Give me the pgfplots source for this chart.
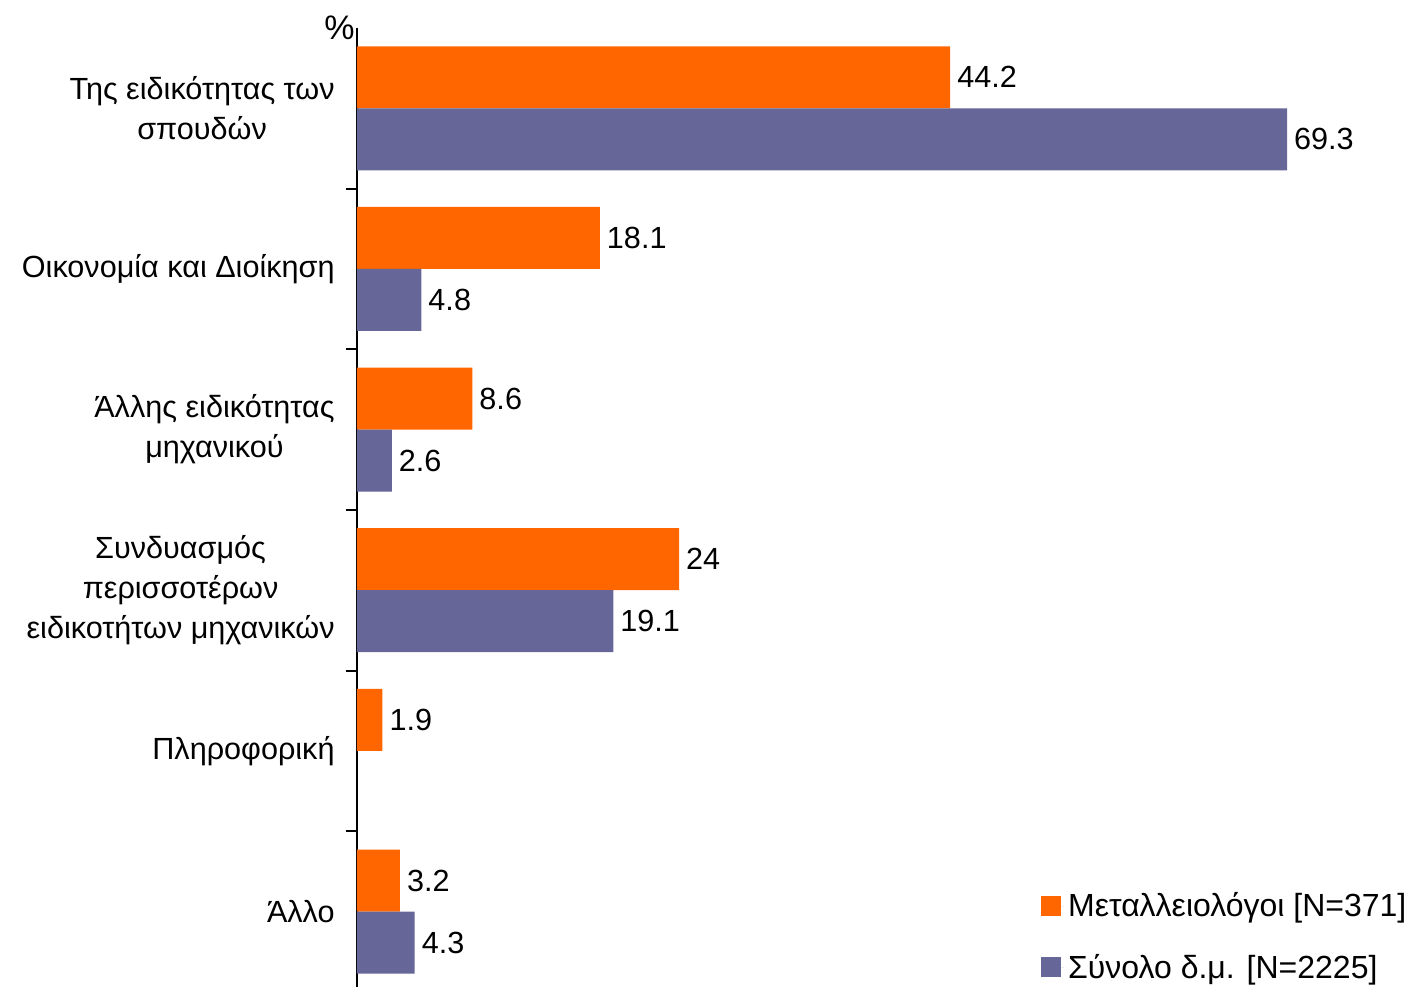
\documentclass[border=0pt]{standalone}
\usepackage{fontspec}
\setmainfont{Liberation Sans}
\usepackage{pgfplots}
\pgfplotsset{compat=1.18}
\definecolor{metal}{RGB}{255,102,0}
\definecolor{total}{RGB}{102,102,153}

\begin{document}
\begin{tikzpicture}
\begin{axis}[
	scale only axis,
	width=523.4pt, height=479.5pt,
	clip=false,
	xbar,
	bar width=31pt,
	xmin=0, xmax=78,
	ymin=-0.5, ymax=5.47,
	y dir=reverse,
	axis x line=none,
	axis y line*=left,
	axis line style={line width=1pt},
	every tick/.style={black, line width=1pt},
	ytick={0,1,2,3,4,5},
	yticklabels={{Της ειδικότητας των\\σπουδών}, {Οικονομία και Διοίκηση}, {Άλλης ειδικότητας\\μηχανικού}, {Συνδυασμός\\περισσοτέρων\\ειδικοτήτων μηχανικών}, {Πληροφορική}, {Άλλο}},
	yticklabel style={align=center, inner sep=0pt, xshift=-11pt, font=\fontsize{15.3}{20}\selectfont},
	major tick length=0pt,
	extra y ticks={0.5,1.5,2.5,3.5,4.5},
	extra y tick labels={},
	extra y tick style={major tick length=5.5pt, tick align=outside},
	point meta=x,
	nodes near coords,
	nodes near coords style={font=\fontsize{15.3}{18}\selectfont, black},
	/pgf/number format/assume math mode=true,
	legend style={at={(1.0124,0.107)}, anchor=north east, draw=none, fill=none,
		font=\fontsize{16}{18}\selectfont, row sep=13pt},
	legend cell align=left,
	legend image code/.code={\fill[#1] (0pt,-5pt) rectangle (10pt,5pt); \path (0pt,0pt) -- (11.5pt,0pt);},
]
\addplot[fill=metal, draw=none, bar shift=15.5pt] coordinates {(44.2,0) (18.1,1) (8.6,2) (24,3) (1.9,4) (3.2,5)};
\addplot[fill=total, draw=none, bar shift=-15.5pt] coordinates {(69.3,0) (4.8,1) (2.6,2) (19.1,3) (4.3,5)};
\legend{Μεταλλειολόγοι [N=371], Σύνολο δ.μ. [N=2225]}
\node[anchor=east, inner sep=0pt, xshift=-1pt, yshift=0pt, font=\fontsize{17}{18}\selectfont] at (axis description cs:0,1) {\%};
\end{axis}
\pgfresetboundingbox
\path ([xshift=-178.5pt]current axis.south west) rectangle ([xshift=1.6pt,yshift=14pt]current axis.north east);
\end{tikzpicture}
\end{document}
